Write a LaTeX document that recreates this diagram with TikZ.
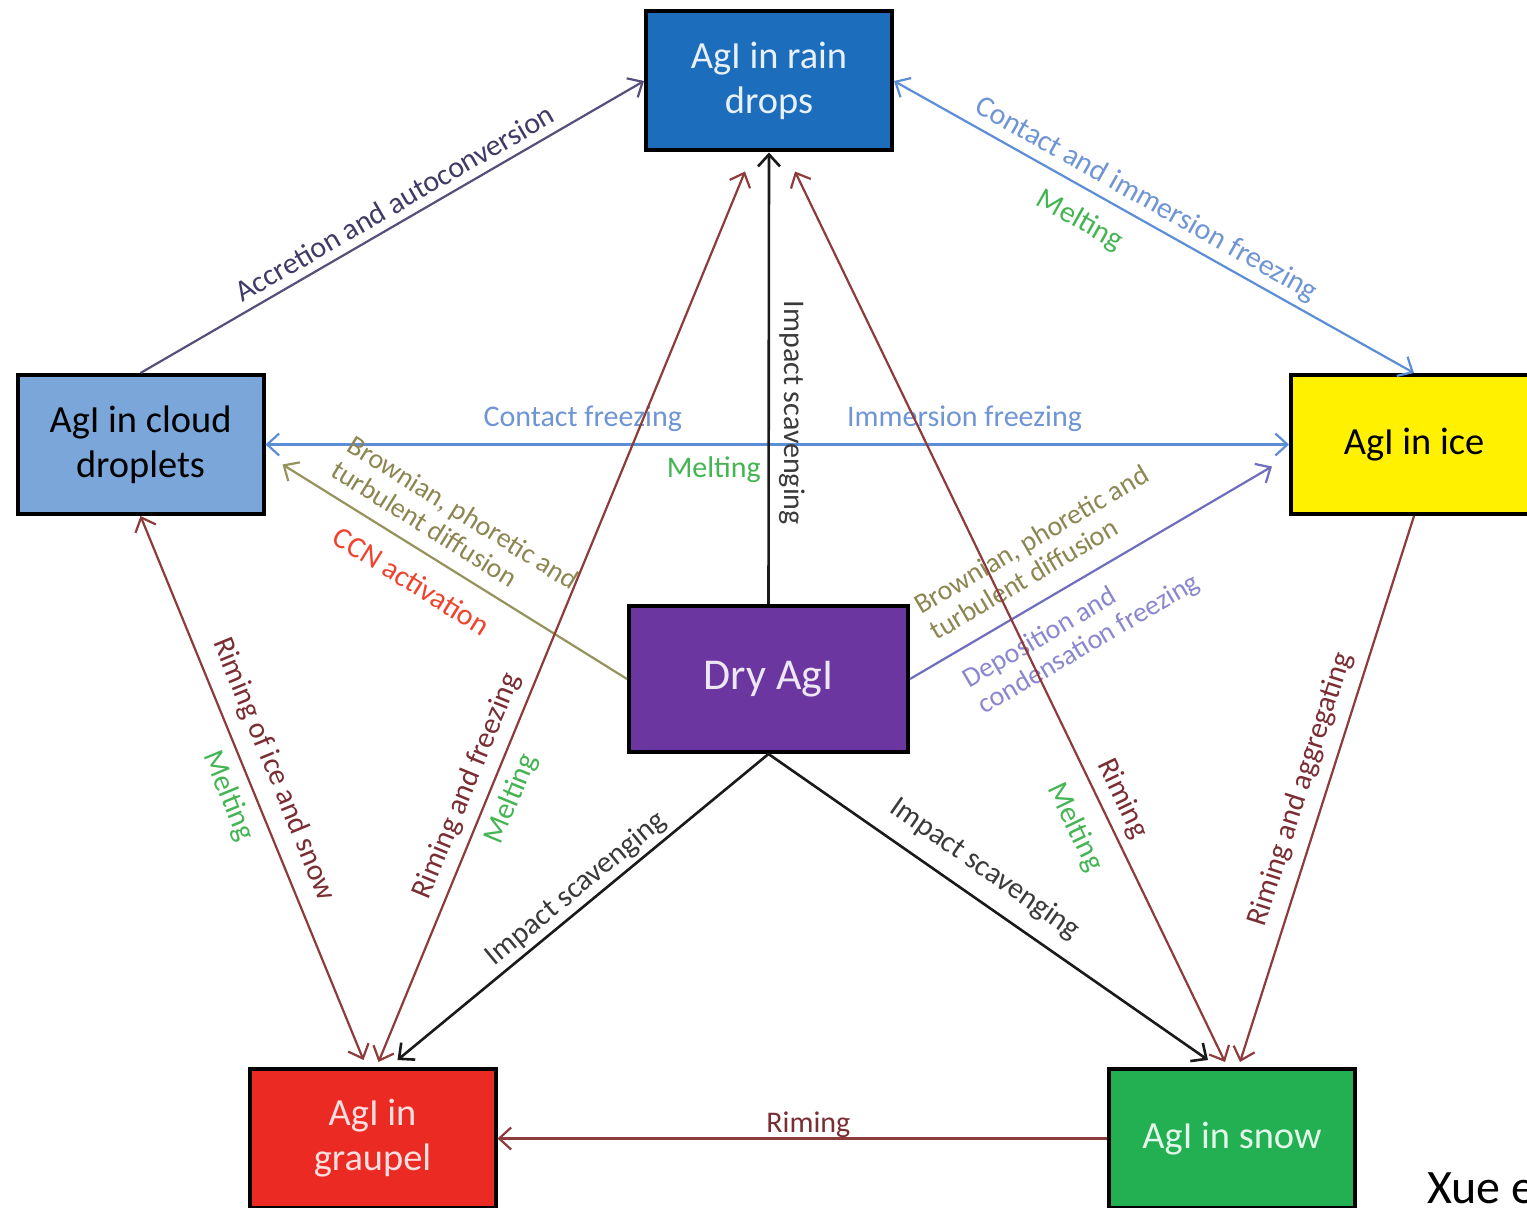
\documentclass[tikz,border=0pt]{standalone}
\usepackage{fontspec}
\setmainfont{Carlito}
\usetikzlibrary{arrows.meta}
\definecolor{rainfill}{HTML}{1D6DBD}
\definecolor{cloudfill}{HTML}{7BA6DA}
\definecolor{icefill}{HTML}{FFF100}
\definecolor{dryfill}{HTML}{6C36A0}
\definecolor{graupelfill}{HTML}{EC2A24}
\definecolor{snowfill}{HTML}{22B053}
\definecolor{accline}{HTML}{564F7C}
\definecolor{acctext}{HTML}{3F3B66}
\definecolor{frzline}{HTML}{5B8ED6}
\definecolor{frztext}{HTML}{6F95D4}
\definecolor{melttext}{HTML}{45B553}
\definecolor{oliveline}{HTML}{95935C}
\definecolor{olivetext}{HTML}{8C8652}
\definecolor{ccntext}{HTML}{F0432E}
\definecolor{depline}{HTML}{6F6DBE}
\definecolor{deptext}{HTML}{8A87CF}
\definecolor{rimeline}{HTML}{8E3B3B}
\definecolor{rimetext}{HTML}{7A2E33}
\definecolor{impline}{HTML}{1A1A1A}
\definecolor{imptext}{HTML}{3A3A3A}

\begin{document}
\begin{tikzpicture}[
  x=0.5pt,
  y=-0.5pt,
  >={Straight Barb[length=6pt,width=11pt]},
  box/.style={draw=black, line width=2pt, minimum width=123pt,
              minimum height=69.5pt, align=center, inner sep=0pt,
              font=\fontsize{19.2}{22.5}\selectfont},
  lbl/.style={font=\fontsize{15}{15.5}\selectfont, inner sep=2pt, align=left},
  lbltwo/.style={lbl, font=\fontsize{14}{15}\selectfont},
  flow/.style={line width=1.1pt},
  accflow/.style={flow, accline},
  frzflow/.style={flow, frzline},
  oliveflow/.style={flow, oliveline},
  depflow/.style={flow, depline},
  rimeflow/.style={flow, rimeline},
  impflow/.style={flow, impline, line width=1.3pt}
]
  % ---- page ----
  \useasboundingbox (0,0) rectangle (1527,1208);
  \clip (0,0) rectangle (1527,1208);
  \fill[white] (0,0) rectangle (1527,1208);

  % ---- the six boxes ----
  \node[box, fill=rainfill, text=white!90!rainfill]       (rain)    at (769,81)      {AgI in rain\\drops};
  \node[box, fill=cloudfill, text=black]                  (cloud)   at (140.5,444.5) {AgI in cloud\\droplets};
  \node[box, fill=icefill, text=black]                    (ice)     at (1414,444.5)  {AgI in ice};
  \node[box, fill=dryfill, text=white!88!dryfill, minimum width=139.5pt,
        minimum height=73pt, font=\fontsize{22}{26}\selectfont]
                                                          (dry)     at (768.5,679)   {Dry AgI};
  \node[box, fill=graupelfill, text=white!85!graupelfill] (graupel) at (372.5,1138.5) {AgI in\\graupel};
  \node[box, fill=snowfill, text=white!88!snowfill]       (snow)    at (1232,1138.5) {AgI in snow};

  % ---- arrow ends that sit beside the anchors ----
  \coordinate (cloudIn) at ([shift={(17,20)}]cloud.east);
  \coordinate (iceIn)   at ([shift={(-17,22)}]ice.west);
  \coordinate (gDry)    at ([shift={(25,-7)}]graupel.north);
  \coordinate (gRain)   at ([shift={(6,-5)}]graupel.north);
  \coordinate (gCloud)  at ([shift={(-9,-7)}]graupel.north);
  \coordinate (sDry)    at ([shift={(-24,-7)}]snow.north);
  \coordinate (sRain)   at ([shift={(-7,-5)}]snow.north);
  \coordinate (sIce)    at ([shift={(8,-5)}]snow.north);
  \coordinate (rainL)   at ([shift={(-24,19)}]rain.south);
  \coordinate (rainR)   at ([shift={(26,19)}]rain.south);

  % ---- liquid and ice exchanges ----
  \draw[accflow, ->] (cloud.north) -- (rain.west)
    node[lbl, sloped, above=2pt, pos=0.524, text=acctext] {Accretion and autoconversion};
  \draw[frzflow, <->] (rain.east) -- (ice.north)
    node[lbl, sloped, above=1pt, pos=0.466, text=frztext] {Contact and immersion freezing}
    node[lbl, sloped, below=6.5pt, pos=0.386, text=melttext] {Melting};
  \draw[frzflow, <->] (cloud.east) -- (ice.west)
    node[lbl, above=4pt, pos=0.31, text=frztext] {Contact freezing}
    node[lbl, above=4pt, pos=0.683, text=frztext] {Immersion freezing}
    node[lbl, below=3.5pt, pos=0.438, text=melttext] {Melting};

  % ---- out of the dry aerosol ----
  \draw[oliveflow, ->] (dry.west) -- (cloudIn)
    node[lbltwo, sloped, above=5pt, pos=0.56, text=olivetext] {Brownian, phoretic and\\turbulent diffusion}
    node[lbl, sloped, below=7.5pt, pos=0.578, text=ccntext] {CCN activation};
  \draw[depflow, ->] (dry.east) -- (iceIn)
    node[lbltwo, sloped, above=7pt, pos=0.418, text=olivetext] {Brownian, phoretic and\\turbulent diffusion}
    node[lbltwo, sloped, below=7pt, pos=0.41, text=deptext] {Deposition and\\condensation freezing};
  \draw[impflow, ->] (dry.north) -- (rain.south)
    node[lbl, rotate=-90, above=2.5pt, pos=0.4235, text=imptext] {Impact scavenging};
  \draw[impflow, ->] (dry.south) -- (gDry)
    node[lbl, sloped, above=0pt, pos=0.487, text=imptext] {Impact scavenging};
  \draw[impflow, ->] (dry.south) -- (sDry)
    node[lbl, sloped, above=5.5pt, pos=0.454, text=imptext] {Impact scavenging};

  % ---- riming and melting ----
  \draw[rimeflow, <->] (gRain) -- (rainL)
    node[lbl, sloped, above=2.5pt, pos=0.30, text=rimetext] {Riming and freezing}
    node[lbl, sloped, below=2.5pt, pos=0.305, text=melttext] {Melting};
  \draw[rimeflow, <->] (cloud.south) -- (gCloud)
    node[lbl, sloped, above=4.5pt, pos=0.485, text=rimetext] {Riming of ice and snow}
    node[lbl, sloped, below=3.5pt, pos=0.497, text=melttext] {Melting};
  \draw[rimeflow, <->] (rainR) -- (sRain)
    node[lbl, sloped, above=2pt, pos=0.715, text=rimetext] {Riming}
    node[lbl, sloped, below=7.5pt, pos=0.72, text=melttext] {Melting};
  \draw[rimeflow, ->] (ice.south) -- (sIce)
    node[lbl, sloped, above=3.5pt, pos=0.5145, text=rimetext] {Riming and aggregating};
  \draw[rimeflow, ->] (snow.west) -- (graupel.east)
    node[lbl, above=-2pt, pos=0.49, text=rimetext] {Riming};

  % ---- citation, cut by the right edge ----
  \node[anchor=base west, inner sep=0pt, font=\fontsize{24}{24}\selectfont]
    (cite) at (1427,1203) {Xue et al.};
\end{tikzpicture}
\end{document}
